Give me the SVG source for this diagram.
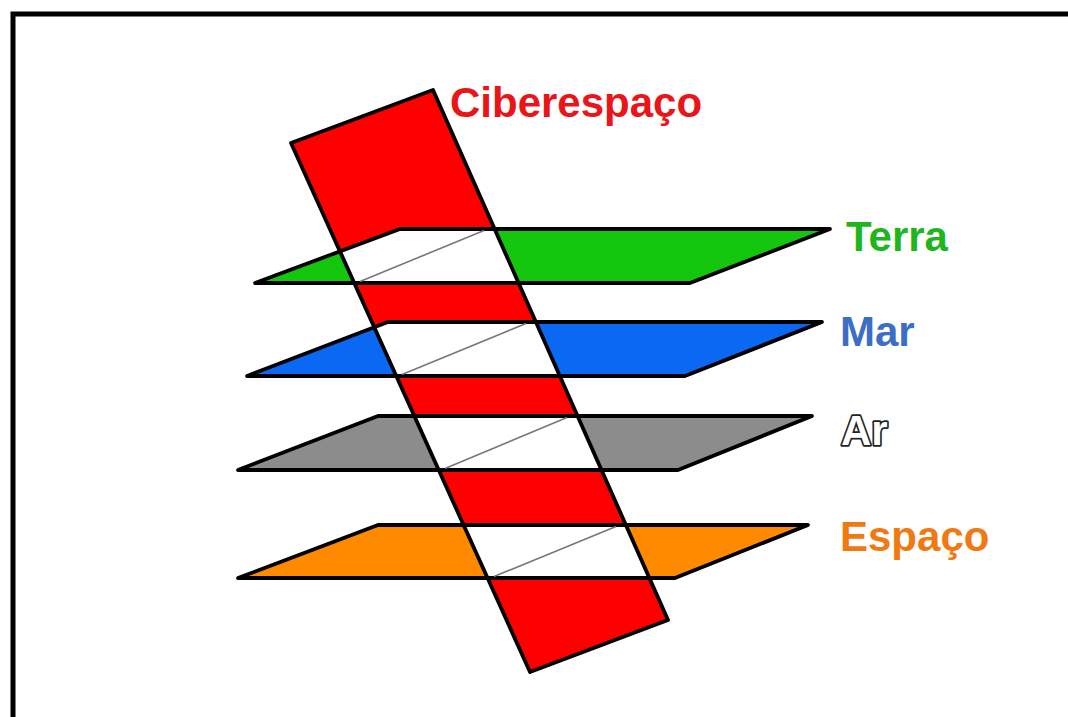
<svg xmlns="http://www.w3.org/2000/svg" width="1068" height="717" viewBox="0 0 1068 717">
<style>
.edge{fill:none;stroke:#000;stroke-width:3.8;stroke-linejoin:round;stroke-linecap:round}
.hole{fill:#fff;stroke:none}
.diag{stroke:#777;stroke-width:1.6;fill:none}
.lbl{font-family:"Liberation Sans",Arial,sans-serif;font-weight:bold;font-size:42px}
</style>
<rect width="1068" height="717" fill="#fff"/>
<path d="M13,717 V14 H1068" fill="none" stroke="#000" stroke-width="5"/>

<g id="fills">
  <polygon id="terra-fill" points="400,229 830,229 690,283 255,283" fill="#14c70e"/>
  <polygon id="mar-fill" points="388,322 822,322 685,376 247,376" fill="#0a68f2"/>
  <polygon id="ar-fill" points="378,416 812,416 678,470 238,470" fill="#8c8c8c"/>
  <polygon id="espaco-fill" points="378,525 808,525 675,578 238,578" fill="#ff8a00"/>
  <polygon id="ciber-fill" points="291,143 433,90 668,620 530,672" fill="#ff0000"/>
  <polygon class="hole" points="400,229 494.6,229 518.6,283 354.3,283 340.3,251.4"/>
  <polygon class="hole" points="388,322 535.9,322 559.8,376 396.3,376 374.3,327.3"/>
  <polygon class="hole" points="414.3,416 577.5,416 601.5,470 438.7,470"/>
  <polygon class="hole" points="463.6,525 625.9,525 649.4,578 487.6,578"/>
</g>

<g id="terra">
  <polygon class="edge" points="400,229 830,229 690,283 255,283"/>
  <line class="diag" x1="484" y1="230.5" x2="360" y2="281.5"/>
  <text class="lbl" x="846" y="251" fill="#1fb51f">Terra</text>
</g>
<g id="mar">
  <polygon class="edge" points="388,322 822,322 685,376 247,376"/>
  <line class="diag" x1="526" y1="323.5" x2="402" y2="374.5"/>
  <text class="lbl" x="840" y="346" fill="#3d6ec6">Mar</text>
</g>
<g id="ar">
  <polygon class="edge" points="378,416 812,416 678,470 238,470"/>
  <line class="diag" x1="567" y1="417.5" x2="445" y2="468.5"/>
  <text class="lbl" x="841" y="445" fill="#fff" stroke="#222" stroke-width="3.5" stroke-linejoin="round" style="paint-order:stroke">Ar</text>
</g>
<g id="espaco">
  <polygon class="edge" points="378,525 808,525 675,578 238,578"/>
  <line class="diag" x1="616" y1="526.5" x2="494" y2="576.5"/>
  <text class="lbl" x="840" y="551" fill="#f07a12">Espaço</text>
</g>
<g id="ciberespaco">
  <polygon class="edge" points="291,143 433,90 668,620 530,672"/>
  <text class="lbl" x="450" y="117" fill="#ea1519">Ciberespaço</text>
</g>
</svg>
